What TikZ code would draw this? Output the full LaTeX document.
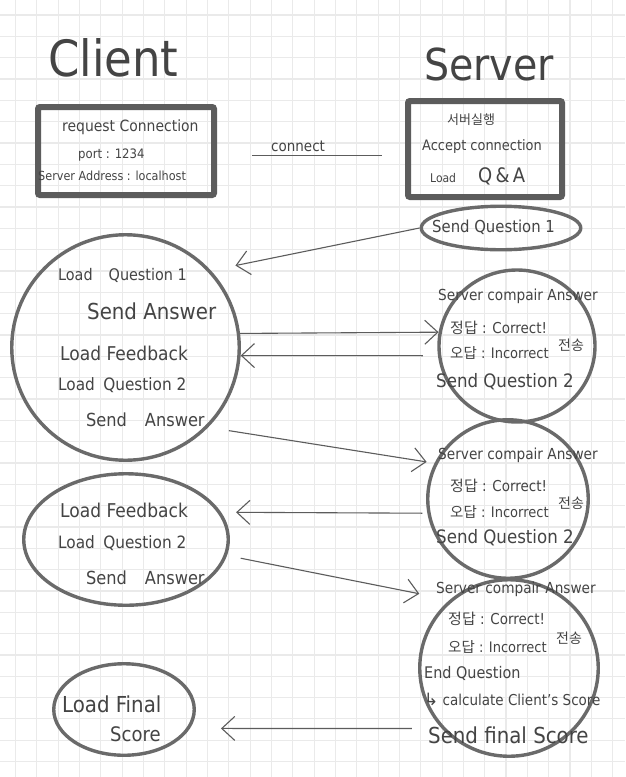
\documentclass[tikz,border=0pt]{standalone}
\usepackage{fontspec}
\setmainfont{DejaVu Sans Condensed}
\newfontfamily\kr{Noto Sans CJK KR}
\newfontfamily\sym{DejaVu Sans}
\usepackage{tikz}
\usetikzlibrary{arrows.meta, positioning, shapes.geometric, calc}

\definecolor{pen}{HTML}{444444}
\definecolor{ring}{HTML}{6A6A6A}
\definecolor{frame}{HTML}{5C5C5C}
\definecolor{gridln}{HTML}{EAEAEA}

\newcommand{\fs}[1]{\fontsize{#1}{#1}\selectfont}

\tikzset{
  hand/.style={text=pen, inner sep=0pt, anchor=west},
  bubble/.style={ellipse, draw=ring, line width=3.4pt, inner sep=0pt},
  panel/.style={draw=frame, line width=6pt, rounded corners=2pt, inner sep=0pt},
  msg/.style={draw=frame, line width=1.1pt, -{Straight Barb[length=13pt,width=24pt]}},
  link/.style={draw=frame, line width=1.1pt},
}

\begin{document}
\begin{tikzpicture}[x=1pt, y=-1pt]
  \useasboundingbox (0,0) rectangle (625,777);
  % --- grid paper ---
  \fill[white] (0,0) rectangle (625,777);
  \foreach \i in {0,...,28}
    \draw[gridln, line width=1.2pt] (15.5+21.33*\i,0) -- (15.5+21.33*\i,777);
  \foreach \j in {0,...,35}
    \draw[gridln, line width=1.2pt] (0,15+21.33*\j) -- (625,15+21.33*\j);

  % --- headings ---
  \node[hand, font=\fs{50}] (client) at (48,58) {Client};
  \node[hand, font=\fs{44}] (server) at (424,64) {Server};

  % --- connection boxes ---
  \node[panel, minimum width=176pt, minimum height=88pt] (req) at (126,151) {};
  \node[panel, minimum width=154pt, minimum height=96pt] (acc) at (485,149) {};

  \node[hand, font=\fs{15.5}] (reqtxt) at (62,127) {request Connection};
  \node[hand, font=\fs{13}] (port) at (78,155) {port : 1234};
  \node[hand, font=\fs{12.5}] (addr) at (38,176) {Server Address : localhost};

  \node[hand, font=\kr\fs{13}] (run) at (447,120) {서버실행};
  \node[hand, font=\fs{14.4}] (accept) at (422,147) {Accept connection};
  \node[hand] (loadqa) at (430,176) {{\fs{12}Load}\hspace{22pt}{\fs{20}Q\,\&\,A}};

  % connect line
  \draw[link, shorten <=35pt, shorten >=23pt] ($(req.east)+(0,4.5)$) -- ($(acc.west)+(0,6.5)$);
  \node[hand, font=\fs{15}] (conn) at (271,146) {connect};

  % --- client side ---
  \node[bubble, minimum width=227.5pt, minimum height=225.5pt] (ce1) at (125.5,347.5) {};
  \node[hand, font=\fs{16}] (c1a) at (58,275) {Load\quad Question 1};
  \node[hand, font=\fs{22}] (c1b) at (87,311) {Send Answer};
  \node[hand, font=\fs{19}] (c1c) at (60,353) {Load Feedback};
  \node[hand, font=\fs{17}] (c1d) at (58,385) {Load\enspace Question 2};
  \node[hand, font=\fs{18}] (c1e) at (86,420) {Send\quad Answer};

  \node[bubble, minimum width=204.5pt, minimum height=131.5pt] (ce2) at (126,539.5) {};
  \node[hand, font=\fs{19}] (c2a) at (60,510) {Load Feedback};
  \node[hand, font=\fs{17}] (c2b) at (58,543) {Load\enspace Question 2};
  \node[hand, font=\fs{18}] (c2c) at (86,578) {Send\quad Answer};

  \node[bubble, minimum width=140.5pt, minimum height=91.5pt] (ce3) at (124,709.5) {};
  \node[hand, font=\fs{22}] (c3a) at (62,704) {Load Final};
  \node[hand, font=\fs{20}] (c3b) at (110,734) {Score};

  % --- server side ---
  \node[bubble, minimum width=159.5pt, minimum height=43.5pt] (sq1) at (501,228) {};
  \node[hand, font=\fs{16.5}] (s1) at (432,227) {Send Question 1};

  \node[bubble, minimum width=156pt, minimum height=152pt] (sc2) at (517,346) {};
  \node[hand, font=\fs{15.2}] (s2a) at (438,296) {Server compair Answer};
  \node[hand, font=\fs{15}] (s2b) at (450,328) {{\kr 정답} : Correct!};
  \node[hand, font=\fs{14.5}] (s2c) at (450,353) {{\kr 오답} : Incorrect};
  \node[hand, font=\kr\fs{14}] (s2d) at (558,345) {전송};
  \node[hand, font=\fs{18.5}] (s2e) at (436,382) {Send Question 2};

  \node[bubble, minimum width=160.5pt, minimum height=158.5pt] (sc3) at (508,499) {};
  \node[hand, font=\fs{15.2}] (s3a) at (438,455) {Server compair Answer};
  \node[hand, font=\fs{15}] (s3b) at (450,486) {{\kr 정답} : Correct!};
  \node[hand, font=\fs{14.5}] (s3c) at (450,512) {{\kr 오답} : Incorrect};
  \node[hand, font=\kr\fs{14}] (s3d) at (558,503) {전송};
  \node[hand, font=\fs{18.5}] (s3e) at (436,538) {Send Question 2};

  \node[bubble, minimum width=178.5pt, minimum height=176.5pt] (sc4) at (509,668) {};
  \node[hand, font=\fs{15.2}] (s4a) at (436,589) {Server compair Answer};
  \node[hand, font=\fs{15}] (s4b) at (448,619) {{\kr 정답} : Correct!};
  \node[hand, font=\fs{14.5}] (s4c) at (448,647) {{\kr 오답} : Incorrect};
  \node[hand, font=\kr\fs{14}] (s4d) at (556,638) {전송};
  \node[hand, font=\fs{16}] (s4e) at (424,673) {End Question};
  \node[hand, font=\fs{15}] (s4f) at (424,699) {{\sym\fs{17}↳} calculate Client's Score};
  \node[hand, font=\fs{22}] (s4g) at (428,735) {Send final Score};

  % --- messages ---
  \draw[msg, shorten >=25pt] (sq1.west) -- (ce1.42);
  \draw[msg] (ce1.7) -- (sc2.170);
  \draw[msg, shorten <=15pt] (sc2.187) -- (ce1.-4);
  \draw[msg, shorten <=21pt, shorten >=8pt] (ce1.-44) -- (sc3.154);
  \draw[msg, shorten <=5pt, shorten >=15pt] (sc3.190) -- (ce2.16);
  \draw[msg, shorten <=14pt, shorten >=31pt] (ce2.-9) -- (sc4.131);
  \draw[msg, shorten <=30pt, shorten >=31pt] (sc4.222) -- (ce3.-16);
\end{tikzpicture}
\end{document}
